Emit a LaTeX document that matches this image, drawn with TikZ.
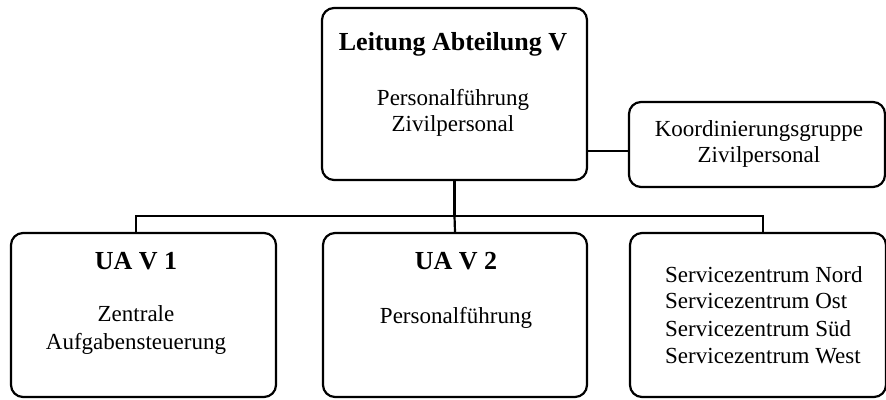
\documentclass[tikz,border=0pt]{standalone}
\usepackage{fontspec}
\setmainfont{Liberation Serif}
\begin{document}
\begin{tikzpicture}[x=1pt,y=1pt,
  box/.style={draw, line width=2.2pt, rounded corners=12pt, inner sep=0pt},
  conn/.style={line width=2.2pt},
  ttl/.style={font=\fontsize{26}{30}\selectfont\bfseries, anchor=base, inner sep=0pt},
  txt/.style={font=\fontsize{23}{27}\selectfont, anchor=base, inner sep=0pt},
  ltxt/.style={font=\fontsize{23}{27}\selectfont, anchor=base west, inner sep=0pt}]
\useasboundingbox (0,0) rectangle (886,399);
\clip (0,0) rectangle (886,399);
% boxes
\node[box, minimum width=265pt, minimum height=172pt] (top) at (454.5,305) {};
\node[box, minimum width=256pt, minimum height=85pt] (koord) at (757,254.5) {};
\node[box, minimum width=265pt, minimum height=164pt] (b1) at (143.5,84) {};
\node[box, minimum width=264pt, minimum height=164pt] (b2) at (455,84) {};
\node[box, minimum width=256pt, minimum height=164pt] (b3) at (758,84) {};
% connectors
\coordinate (hub) at (454.5,183);
\draw[conn] (top.south) -- (hub);
\draw[conn] ([xshift=-7.5pt]b1.north) |- (hub) -| ([xshift=5pt]b3.north);
\draw[conn] (hub) -- (b2.north);
\draw[conn] ([yshift=-6.5pt]koord.west) -- ([yshift=-6.5pt]koord.west -| top.east);
% texts
\node[ttl] (t0) at (453,348) {Leitung Abteilung V};
\node[txt] (t1) at (453,293) {Personalführung};
\node[txt] (t2) at (453,267) {Zivilpersonal};
\node[txt] (k1) at (759,262) {Koordinierungsgruppe};
\node[txt] (k2) at (759,236) {Zivilpersonal};
\node[ttl] (u1) at (136,129) {UA V 1};
\node[txt] (u1a) at (136,77) {Zentrale};
\node[txt] (u1b) at (136,49) {Aufgabensteuerung};
\node[ttl] (u2) at (456,129) {UA V 2};
\node[txt] (u2a) at (456,75) {Personalführung};
\node[ltxt] (s1) at (665,116) {Servicezentrum Nord};
\node[ltxt] (s2) at (665,90) {Servicezentrum Ost};
\node[ltxt] (s3) at (665,62) {Servicezentrum Süd};
\node[ltxt] (s4) at (665,35) {Servicezentrum West};
\end{tikzpicture}
\end{document}
